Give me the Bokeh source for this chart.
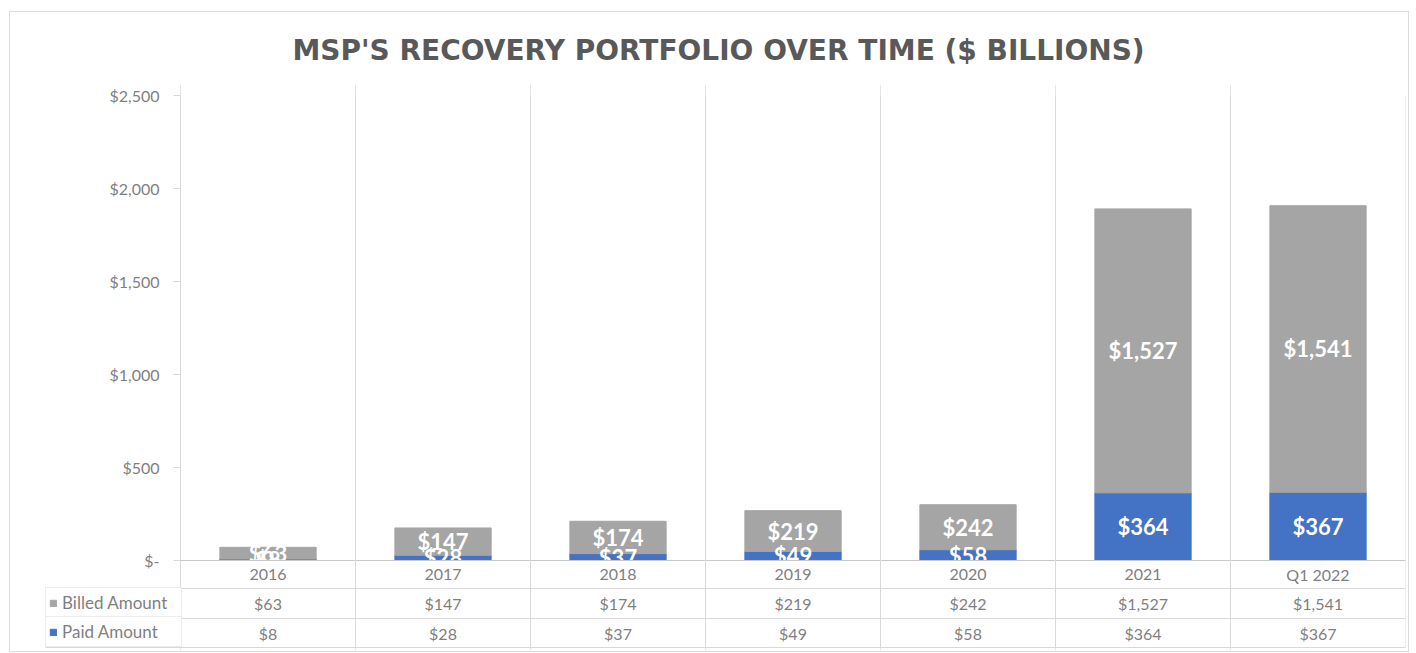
from bokeh.plotting import figure
from bokeh.models import Range1d, FixedTicker, ColumnDataSource, Legend, LegendItem
from bokeh.core.properties import value
from bokeh.embed import file_html
from bokeh.resources import INLINE

# ---- data ----
categories = ["2016", "2017", "2018", "2019", "2020", "2021", "Q1 2022"]
billed = [63, 147, 174, 219, 242, 1527, 1541]
paid = [8, 28, 37, 49, 58, 364, 367]
y_ticks = [0, 500, 1000, 1500, 2000, 2500]
y_tick_labels = ["$-", "$500", "$1,000", "$1,500", "$2,000", "$2,500"]
series_names = ["Billed Amount", "Paid Amount"]
title_text = "MSP'S RECOVERY PORTFOLIO OVER TIME ($ BILLIONS)"

# ---- styles ----
GRAY = "#A5A5A5"
BLUE = "#4472C4"
LINE = "#D9D9D9"
TXT = "#7F7F7F"
FONT = "Lato"
LEGEND_COL = 135 / 175.0        # width of the table's name column, in category widths
Y_MAX = 2500                    # top of the value axis
Y_TOP = 2560                    # a little headroom so the top tick label is not clipped

# table rows (data units below zero)
ROW_CAT = -75
ROW_BILLED = -231
ROW_PAID = -390
ROW_LINES = [-150, -312, -468]

def money(v):
    return "${:,}".format(v)

n = len(categories)
xpos = [i + 0.5 for i in range(n)]

src = ColumnDataSource(dict(
    x=xpos,
    edge=[i + 1 for i in range(n)],
    cats=categories,
    paid=paid,
    billed=billed,
    paid_mid=[p_ / 2 for p_ in paid],
    billed_mid=[p_ + b / 2 for p_, b in zip(paid, billed)],
    paid_lbl=[money(v) for v in paid],
    billed_lbl=[money(v) for v in billed],
))

p = figure(
    x_range=Range1d(-LEGEND_COL, n),
    y_range=Range1d(-484, Y_TOP),
    width=1400, height=641,
    output_backend="svg", toolbar_location=None,
    x_axis_location=None,
    min_border_left=35, min_border_right=5,
    min_border_top=72, min_border_bottom=3,
)
p.outline_line_color = None
p.ygrid.grid_line_color = None
p.styles = {"border": "1px solid #DCDCDC", "margin-left": "9px", "margin-top": "11px"}

# title
p.title.text = title_text
p.title.align = "left"
p.title.offset = 247
p.title.standoff = 36
p.title.text_font = "DejaVu Sans"
p.title.text_font_style = "bold"
p.title.text_font_size = "28px"
p.title.text_color = "#595959"

# stacked bars
rs = p.vbar_stack(["paid", "billed"], x="x", width=0.55, color=[BLUE, GRAY], source=src)

# bar labels
for col, ycol in (("billed_lbl", "billed_mid"), ("paid_lbl", "paid_mid")):
    p.text(x="x", y=ycol, text=col, source=src, text_align="center", text_baseline="middle",
           text_color="white", text_font=value(FONT), text_font_style="bold", text_font_size="22px")

# white cover for the category row (clips labels at the baseline like the original)
p.rect(x="x", y=ROW_CAT, width=1, height=150, source=src, fill_color="white", line_color=None)

# table grid lines
p.segment(x0=0, y0=0, x1=n, y1=0, line_color="#C8C8C8", line_width=1)
p.hspan(y=ROW_LINES, line_color=LINE, line_width=1)
p.segment(x0="edge", y0=ROW_LINES[-1], x1="edge", y1=Y_MAX, source=src, line_color=LINE, line_width=1)

# table texts
for col, yy in (("cats", ROW_CAT), ("billed_lbl", ROW_BILLED), ("paid_lbl", ROW_PAID)):
    p.text(x="x", y=yy, text=col, source=src, text_align="center", text_baseline="middle",
           text_color=TXT, text_font=value(FONT), text_font_size="16px")

# y axis, drawn at the left edge of the first category
ax = p.yaxis[0]
ax.fixed_location = 0
ax.ticker = FixedTicker(ticks=y_ticks)
ax.major_label_overrides = {t: l for t, l in zip(y_ticks, y_tick_labels)}
ax.bounds = (ROW_LINES[-1], Y_MAX)
ax.axis_line_color = LINE
ax.major_tick_line_color = LINE
ax.major_tick_out = 7
ax.major_tick_in = 0
ax.minor_tick_line_color = None
ax.major_label_standoff = 14
ax.major_label_text_font = FONT
ax.major_label_text_font_size = "16px"
ax.major_label_text_color = TXT

# legend cells of the data table
for name, rend, loc in ((series_names[0], rs[1], (0, 32)), (series_names[1], rs[0], (0, 3))):
    leg = Legend(items=[LegendItem(label=name, renderers=[rend])], location=loc,
                 border_line_color=LINE, background_fill_color="white", background_fill_alpha=1,
                 padding=3, margin=0, spacing=0, glyph_width=8, glyph_height=8,
                 label_standoff=5, label_width=116, label_height=23,
                 label_text_font=FONT, label_text_font_size="17px", label_text_color=TXT)
    p.add_layout(leg)

open("out.html", "w").write(file_html(p, INLINE))
